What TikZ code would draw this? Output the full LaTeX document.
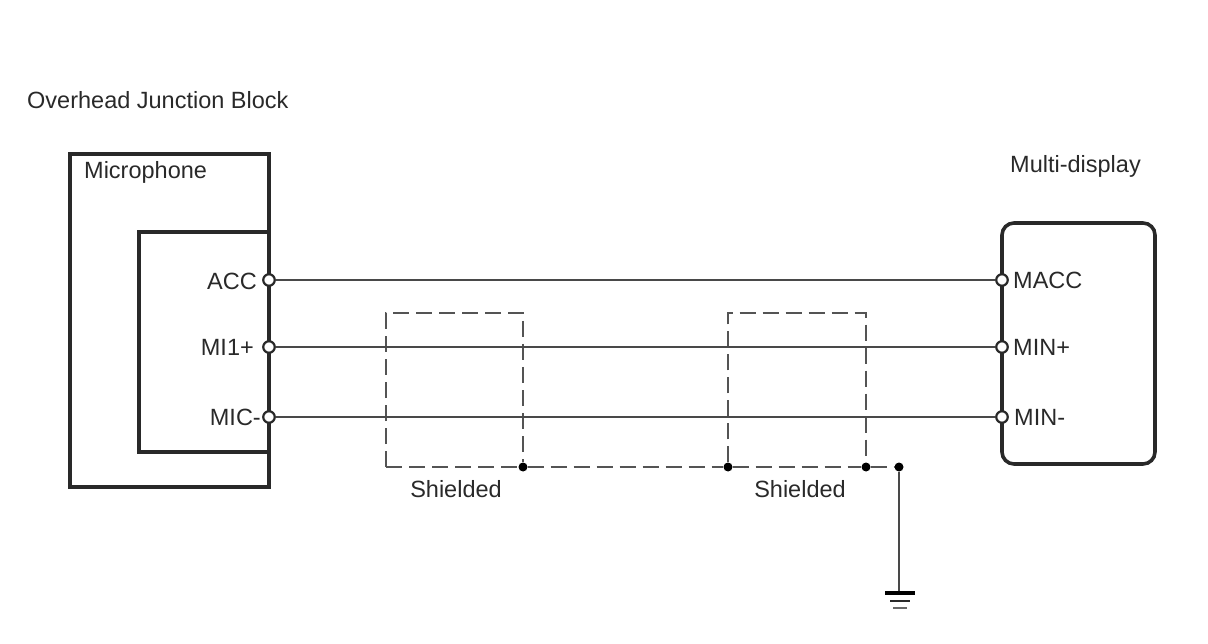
\documentclass[tikz,border=0pt]{standalone}
\usepackage{fontspec}
\setmainfont{Liberation Sans}
\definecolor{ink}{gray}{0.16}
\tikzset{
  x=1pt,y=-1pt,
  label text/.style={inner sep=0pt,text=ink,font=\fontsize{23.5}{28}\selectfont},
  thick box/.style={draw=ink,line width=3.6pt,line cap=rect},
  wire/.style={draw=ink!85!white,line width=2.8pt},
  shield/.style={draw=ink!80!white,line width=2.6pt,dash pattern=on 16pt off 7pt},
  port/.style={circle,draw=ink,fill=white,line width=2.2pt,inner sep=0pt,minimum size=11.5pt},
  jdot/.style={circle,fill=black,inner sep=0pt,minimum size=9pt},
}
\begin{document}
\begin{tikzpicture}
\useasboundingbox (0,0) rectangle (1208,644);
% blocks
\draw[thick box] (70,154) rectangle (269,487);
\draw[thick box] (269,232) -- (139,232) -- (139,452) -- (269,452);
\draw[thick box,rounded corners=12pt] (1002,223) rectangle (1155,464);
% coordinates
\node[port] (p1) at (269,280) {};
\node[port] (p2) at (269,347) {};
\node[port] (p3) at (269,417) {};
\node[port] (q1) at (1002,280) {};
\node[port] (q2) at (1002,347) {};
\node[port] (q3) at (1002,417) {};
\coordinate (s1bl) at (386,467);
\coordinate (s1tl) at (386,313);
\coordinate (s1tr) at (523,313);
\coordinate (s2tl) at (728,313);
\coordinate (s2tr) at (866,313);
\node[jdot] (d1) at (523,467) {};
\node[jdot] (d2) at (728,467) {};
\node[jdot] (d3) at (866,467) {};
\node[jdot] (d4) at (899,467) {};
\coordinate (g) at (899,593);
% shields
\draw[shield] (s1bl) -- (s1tl) -- (s1tr) -- (d1);
\draw[shield] (d2) -- (s2tl) -- (s2tr) -- (d3);
\draw[shield] (s1bl) -- (d1) -- (d2) -- (d3) -- (d4);
% wires
\draw[wire] (p1) -- (q1);
\draw[wire] (p2) -- (q2);
\draw[wire] (p3) -- (q3);
\draw[wire] (d4) -- (g);
% ground
\draw[draw=black,line width=3.4pt] (885,593) -- (915,593);
\draw[draw=ink,line width=2.6pt] (890,601) -- (910,601);
\draw[draw=ink!70!white,line width=2.6pt] (893,608) -- (907,608);
% labels
\node[label text,anchor=west] (t1) at (27,100) {Overhead Junction Block};
\node[label text,anchor=west] (t2) at (84,172) {Microphone};
\node[label text,anchor=west] (t3) at (1010,166) {Multi-display};
\node[label text,anchor=east] (a1) at (257,281) {ACC};
\node[label text,anchor=east] (a2) at (254,347) {MI1+};
\node[label text,anchor=east] (a3) at (261,417) {MIC-};
\node[label text,anchor=west] (b1) at (1013,280) {MACC};
\node[label text,anchor=west] (b2) at (1013,347) {MIN+};
\node[label text,anchor=west] (b3) at (1014,417) {MIN-};
\node[label text] (s1) at (456,489) {Shielded};
\node[label text] (s2) at (800,489) {Shielded};
\end{tikzpicture}
\end{document}
